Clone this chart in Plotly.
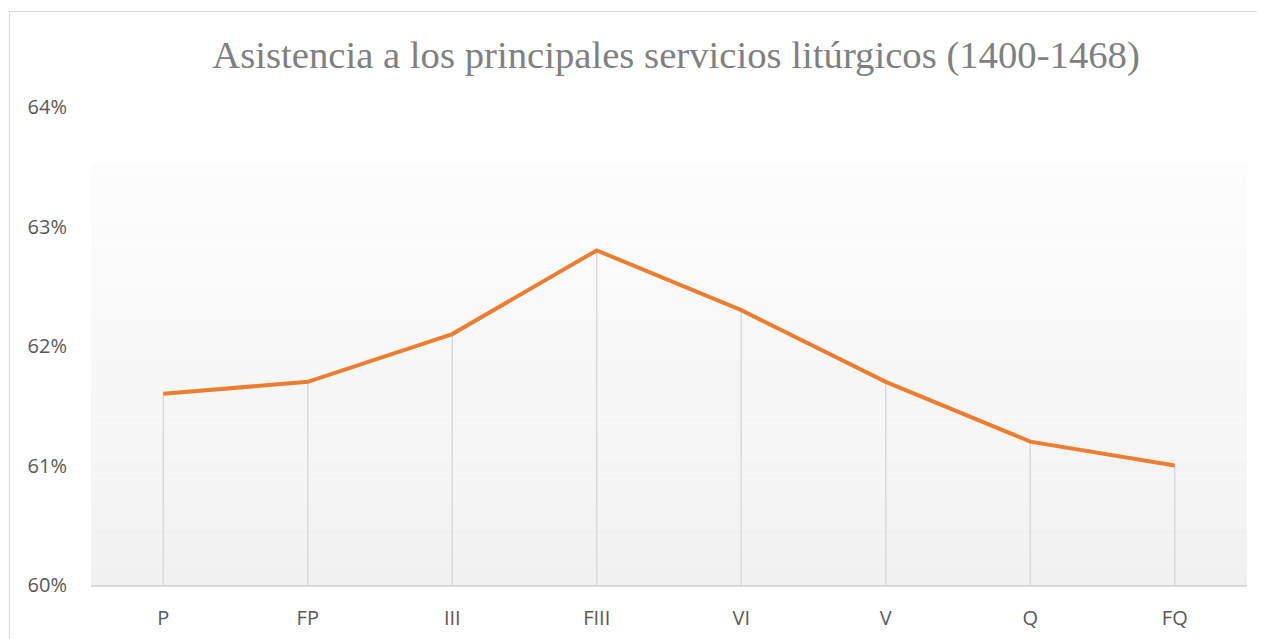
import plotly.graph_objects as go

categories = ["P", "FP", "III", "FIII", "VI", "V", "Q", "FQ"]
values = [61.6, 61.7, 62.1, 62.8, 62.3, 61.7, 61.2, 61.0]
y_ticks = [60, 61, 62, 63, 64]
y_tick_labels = ["60%", "61%", "62%", "63%", "64%"]
title_text = "Asistencia a los principales servicios litúrgicos (1400-1468)"

W, H = 1265, 639
OFF = 8  # page body margin
L, R, T, B = 91 - OFF, 18 + OFF, 107 - OFF, 54 + OFF
y_min, y_max = 60, 64

fig = go.Figure()

# drop lines from each point to the axis
fig.add_trace(go.Scatter(
    x=categories, y=values, mode="markers",
    marker=dict(size=0.1, color="rgba(0,0,0,0)"),
    error_y=dict(type="data", symmetric=False,
                 array=[0] * len(values),
                 arrayminus=[v - y_min for v in values],
                 color="#d9d9d9", thickness=1.5, width=0),
    hoverinfo="skip", showlegend=False,
))
fig.add_trace(go.Scatter(
    x=categories, y=values, mode="lines",
    line=dict(color="#ED7D31", width=4),
    showlegend=False,
))

# gradient background of the plot area
shapes = []
grad_top = 63.53
n = 60
for i in range(n):
    y0 = y_min + (grad_top - y_min) * i / n
    y1 = y_min + (grad_top - y_min) * (i + 1) / n
    t = (i + 0.5) / n
    c = int(round(241 + (253 - 241) * t))
    shapes.append(dict(type="rect", xref="x domain", yref="y",
                       x0=0, x1=1, y0=y0, y1=y1, line=dict(width=0),
                       fillcolor=f"rgb({c},{c},{c})", layer="below"))

# outer chart border (page pixel -> paper coords)
pw = W - L - R
ph = H - T - B
def px_x(p):
    return (p - OFF - L) / pw
def px_y(p):
    return (H - B - (p - OFF)) / ph
shapes.append(dict(type="rect", xref="paper", yref="paper",
                   x0=px_x(9.5), x1=px_x(1290), y0=px_y(660), y1=px_y(11.5),
                   line=dict(color="#d9d9d9", width=1.2), fillcolor="rgba(0,0,0,0)",
                   layer="below"))

fig.update_layout(
    width=W, height=H,
    margin=dict(l=L, r=R, t=T, b=B),
    paper_bgcolor="white", plot_bgcolor="rgba(0,0,0,0)",
    shapes=shapes,
    title=dict(text=title_text, x=(676 - OFF) / W, xanchor="center",
               y=1 - (54 - OFF) / H, yanchor="middle",
               font=dict(family="Liberation Serif, Times New Roman, serif",
                         size=38.7, color="#808080")),
    xaxis=dict(type="category", range=[-0.5, len(categories) - 0.5],
               showgrid=False, zeroline=False,
               showline=True, linecolor="#d9d9d9", linewidth=1.5,
               ticks="", tickfont=dict(family="Open Sans, sans-serif", size=20, color="#595959"),
               ticklabelstandoff=14),
    yaxis=dict(range=[y_min, y_max], tickvals=y_ticks, ticktext=y_tick_labels,
               showgrid=False, zeroline=False, showline=False, ticks="",
               tickfont=dict(family="Open Sans, sans-serif", size=20, color="#595959"),
               ticklabelstandoff=23),
)

fig.write_html("out.html")
